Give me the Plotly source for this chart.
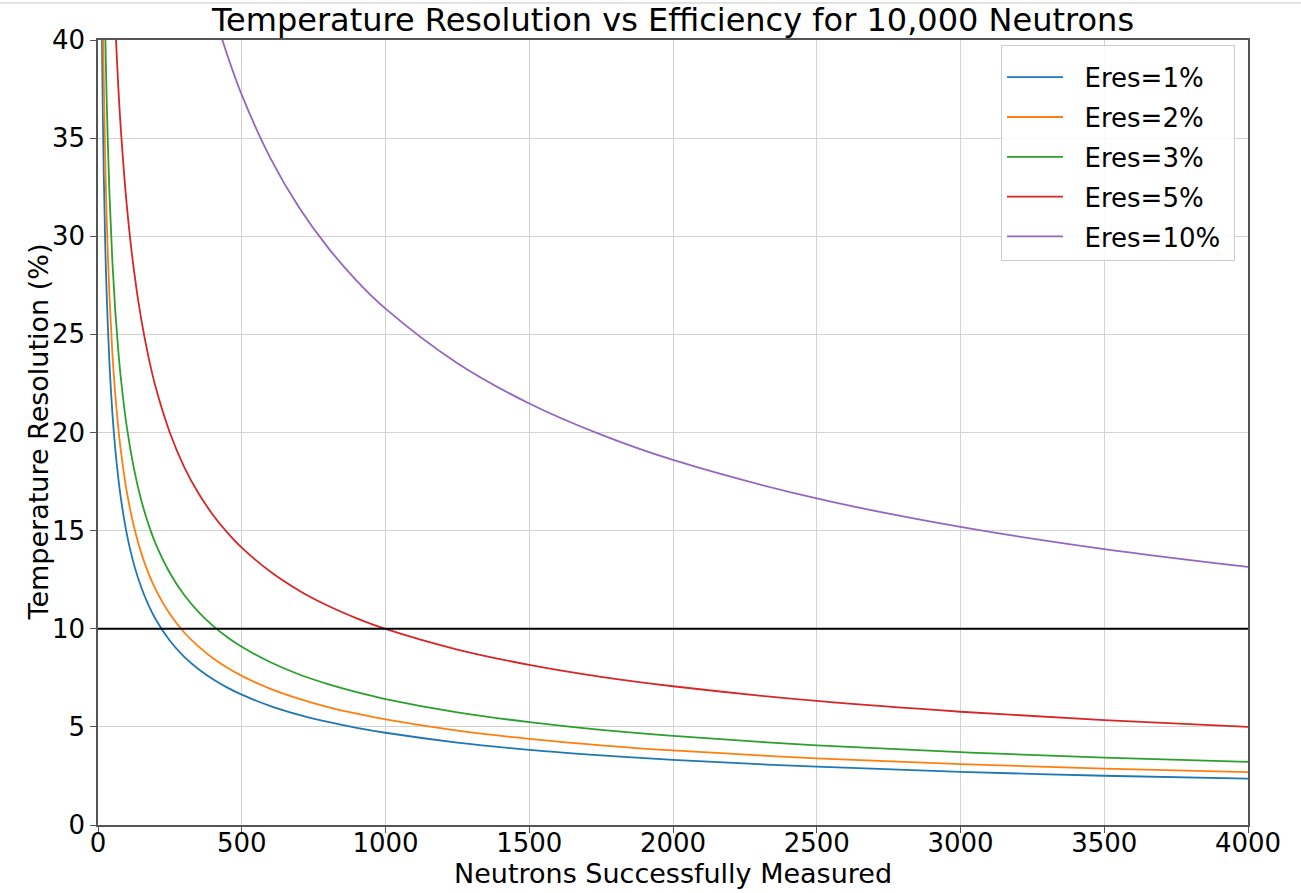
import plotly.graph_objects as go

# Neutrons successfully measured (x sample points)
neutrons = [10, 12, 15, 20, 25, 30, 40, 50, 60, 70, 80, 100, 125, 150, 175, 200,
            250, 300, 350, 400, 450, 500, 600, 700, 800, 900, 1000, 1250, 1500, 1750,
            2000, 2500, 3000, 3500, 4000]

# Temperature resolution (%) per energy resolution
eres_1 = [46.96, 42.87, 38.34, 33.21, 29.70, 27.11, 23.48, 21.00, 19.17, 17.75, 16.60,
          14.85, 13.28, 12.13, 11.23, 10.50, 9.39, 8.57, 7.94, 7.43, 7.00, 6.64, 6.06,
          5.61, 5.25, 4.95, 4.70, 4.20, 3.83, 3.55, 3.32, 2.97, 2.71, 2.51, 2.36]
eres_2 = [53.76, 49.07, 43.89, 38.01, 34.00, 31.04, 26.88, 24.04, 21.95, 20.32, 19.01,
          17.00, 15.21, 13.88, 12.85, 12.02, 10.75, 9.81, 9.09, 8.50, 8.01, 7.60, 6.94,
          6.43, 6.01, 5.67, 5.38, 4.81, 4.39, 4.06, 3.80, 3.40, 3.10, 2.87, 2.69]
eres_3 = [64.19, 58.60, 52.41, 45.39, 40.60, 37.06, 32.10, 28.71, 26.21, 24.26, 22.70,
          20.30, 18.16, 16.57, 15.35, 14.35, 12.84, 11.72, 10.85, 10.15, 9.57, 9.08, 8.29,
          7.67, 7.18, 6.77, 6.42, 5.74, 5.24, 4.85, 4.54, 4.06, 3.71, 3.43, 3.22]
eres_5 = [99.93, 91.22, 81.59, 70.66, 63.20, 57.69, 49.96, 44.69, 40.80, 37.77, 35.33,
          31.60, 28.26, 25.80, 23.89, 22.34, 19.99, 18.24, 16.89, 15.80, 14.90, 14.13,
          12.90, 11.94, 11.17, 10.53, 9.99, 8.94, 8.16, 7.55, 7.07, 6.32, 5.77, 5.34, 5.00]
eres_10 = [263.1, 240.2, 214.8, 186.0, 166.4, 151.9, 131.5, 117.7, 107.4, 99.4, 93.0,
           83.2, 74.4, 67.9, 62.9, 58.8, 52.6, 48.0, 44.5, 41.6, 39.22, 37.2, 33.97,
           31.45, 29.42, 27.73, 26.31, 23.53, 21.48, 19.89, 18.60, 16.64, 15.19, 14.06,
           13.15]

series_names = ["Eres=1%", "Eres=2%", "Eres=3%", "Eres=5%", "Eres=10%"]
series_values = [eres_1, eres_2, eres_3, eres_5, eres_10]
colors = ["#1f77b4", "#ff7f0e", "#2ca02c", "#d62728", "#9467bd"]

# Target resolution line
target_x = [0, 4000]
target_y = [10, 10]

x_ticks = [0, 500, 1000, 1500, 2000, 2500, 3000, 3500, 4000]
y_ticks = [0, 5, 10, 15, 20, 25, 30, 35, 40]

FONT = "DejaVu Sans, Liberation Sans, sans-serif"
NB = "\u00a0"

fig = go.Figure()
for i, (name, vals, col) in enumerate(zip(series_names, series_values, colors)):
    fig.add_trace(go.Scatter(
        x=neutrons, y=vals, mode="lines", name=NB * 2 + name + NB,
        line=dict(color=col, width=1.8, shape="spline", smoothing=1.0),
        legendgroup=f"g{i}",
    ))

fig.add_trace(go.Scatter(
    x=target_x, y=target_y, mode="lines", showlegend=False,
    line=dict(color="black", width=2),
))

fig.update_layout(
    width=1301, height=893,
    paper_bgcolor="white", plot_bgcolor="white",
    margin=dict(l=98, r=53, t=40, b=68),
    font=dict(family=FONT, size=26, color="black"),
    title=dict(text="Temperature Resolution vs Efficiency for 10,000 Neutrons",
               x=0.5, xanchor="center", xref="paper", yref="container",
               y=1 - 20 / 893, yanchor="middle",
               font=dict(size=32, family=FONT, color="black")),
    legend=dict(x=1 - 13 / 1150, xanchor="right", y=1 - 5 / 785, yanchor="top",
                bgcolor="rgba(255,255,255,0.85)", bordercolor="#cccccc", borderwidth=1,
                font=dict(size=26, family=FONT), tracegroupgap=3,
                itemwidth=56,
                title=dict(text=NB, font=dict(size=6))),
    showlegend=True,
    annotations=[
        dict(text="Neutrons Successfully Measured", xref="paper", yref="paper",
             x=0.5, y=0, xanchor="center", yanchor="middle", yshift=-48,
             showarrow=False, font=dict(size=27, family=FONT, color="black")),
        dict(text="Temperature Resolution (%)", xref="paper", yref="paper",
             x=0, y=0.5, xanchor="center", yanchor="middle", xshift=-60,
             textangle=-90, showarrow=False,
             font=dict(size=27, family=FONT, color="black")),
    ],
    shapes=[
        dict(type="line", xref="paper", yref="paper",
             x0=-98 / 1150, x1=1 + 53 / 1150, y0=1 + 37 / 785, y1=1 + 37 / 785,
             line=dict(color="#d9d9d9", width=1.5)),
    ],
)

fig.update_xaxes(
    range=[0, 4000], tickvals=x_ticks, ticktext=[str(v) for v in x_ticks],
    showgrid=True, gridcolor="#d3d3d3", gridwidth=1,
    showline=True, linecolor="#555555", linewidth=1.5, mirror=True,
    ticks="outside", ticklen=6, tickcolor="#555555",
    tickfont=dict(size=26, family=FONT), ticklabelstandoff=-12,
    automargin=False, zeroline=False,
)
fig.update_yaxes(
    range=[0, 40], tickvals=y_ticks, ticktext=[str(v) for v in y_ticks],
    showgrid=True, gridcolor="#d3d3d3", gridwidth=1,
    showline=True, linecolor="#555555", linewidth=1.5, mirror=True,
    ticks="outside", ticklen=6, tickcolor="#555555",
    tickfont=dict(size=26, family=FONT),
    automargin=False, zeroline=False,
)

fig.write_html("out.html", config={"displayModeBar": False},
               post_script="document.body.style.margin='0';document.body.style.padding='0';")
